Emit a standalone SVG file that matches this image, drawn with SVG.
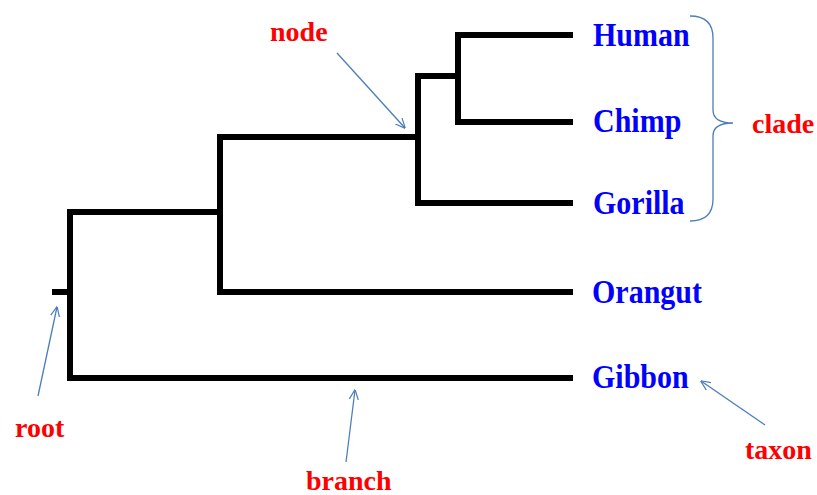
<svg xmlns="http://www.w3.org/2000/svg" width="817" height="495" viewBox="0 0 817 495">
<style>
.tree{fill:none;stroke:#000;stroke-width:6;stroke-linejoin:miter;stroke-linecap:butt}
.ann{fill:none;stroke:#4a7ebb;stroke-width:1.3}
.taxon{font-family:"Liberation Serif","Times New Roman",serif;font-weight:bold;font-size:30px;fill:#0000ff}
.lab{font-family:"Liberation Serif","Times New Roman",serif;font-weight:bold;font-size:28px;fill:#ff0000}
</style>
<defs>
<marker id="open" viewBox="0 0 10 10" refX="9.5" refY="5" markerWidth="10" markerHeight="10" markerUnits="userSpaceOnUse" orient="auto">
<path d="M0,0.5 L10,5 L0,9.5" fill="none" stroke="#4a7ebb" stroke-width="1.2"/>
</marker>
</defs>
<rect width="817" height="495" fill="#fff"/>
<g id="connectors">
<path class="tree" d="M52,292 H70"/>
<path class="tree" d="M220,212 H70 V378 H573"/>
<path class="tree" d="M418,137 H220 V292 H573"/>
<path class="tree" d="M458,76 H418 V203 H573"/>
<path class="tree" d="M573,35 H458 V122 H573"/>
<path class="ann" d="M337,53 L405,128" marker-end="url(#open)"/>
<path class="ann" d="M38,396 L57,307" marker-end="url(#open)"/>
<path class="ann" d="M346,462 L355,390" marker-end="url(#open)"/>
<path class="ann" d="M765,425 L701,381" marker-end="url(#open)"/>
<path class="ann" d="M690,16 Q713,16 713,38 L713,110 Q713,123 733,123 Q713,123 713,136 L713,199 Q713,221 690,221"/>
</g>
<g id="human"><text class="taxon" transform="translate(593,46) scale(1,1.15)">Human</text></g>
<g id="chimp"><text class="taxon" transform="translate(593,132) scale(1,1.15)">Chimp</text></g>
<g id="gorilla"><text class="taxon" transform="translate(593,214) scale(1,1.15)">Gorilla</text></g>
<g id="orangut"><text class="taxon" transform="translate(592,303) scale(1,1.15)">Orangut</text></g>
<g id="gibbon"><text class="taxon" transform="translate(592,388) scale(1,1.15)">Gibbon</text></g>
<g id="label-node"><text class="lab" x="270" y="41">node</text></g>
<g id="label-clade"><text class="lab" x="752" y="133">clade</text></g>
<g id="label-root"><text class="lab" x="15" y="437">root</text></g>
<g id="label-branch"><text class="lab" x="306" y="490">branch</text></g>
<g id="label-taxon"><text class="lab" x="745" y="459">taxon</text></g>
</svg>
